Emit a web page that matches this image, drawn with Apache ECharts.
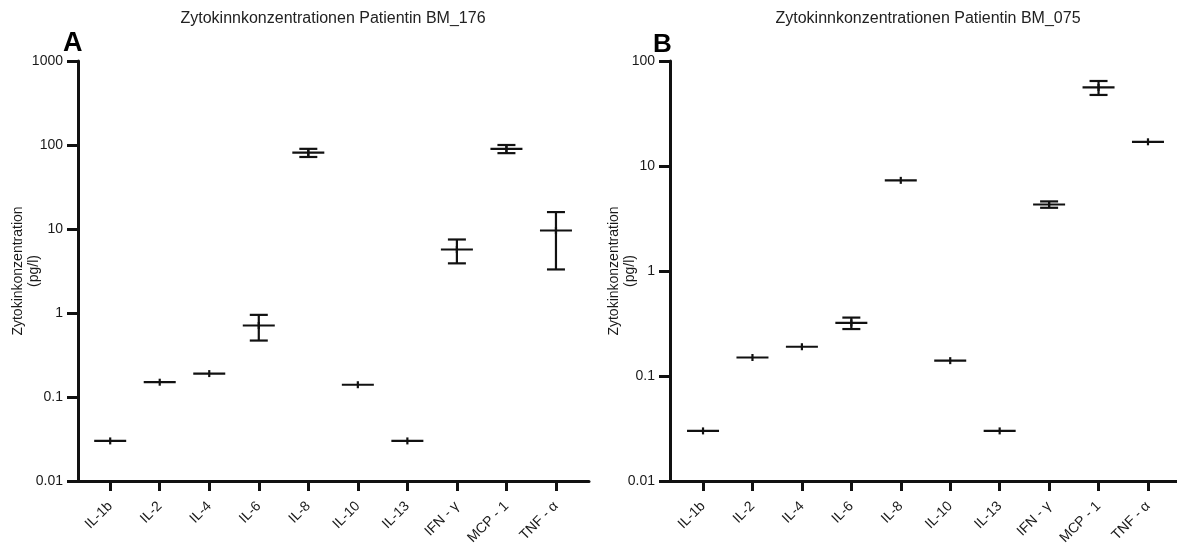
<!DOCTYPE html>
<html>
<head>
<meta charset="utf-8">
<script src="https://cdn.jsdelivr.net/npm/echarts@6/dist/echarts.min.js"></script>
<style>
  html, body { margin: 0; padding: 0; background: #fff; }
  #chart { width: 1177px; height: 547px; }
</style>
</head>
<body>
<div id="chart"></div>
<script>
// Cytokine panel: categories shared by both patients
const cytokines = ['IL-1b', 'IL-2', 'IL-4', 'IL-6', 'IL-8', 'IL-10', 'IL-13', 'IFN - γ', 'MCP - 1', 'TNF - α'];

// Patient BM_176 (panel A): mean and SD in pg/l
const meanA = [0.03, 0.15, 0.19, 0.71, 81, 0.14, 0.03, 5.7, 90, 9.6];
const sdA   = [0, 0, 0, 0.24, 9, 0, 0, 1.8, 10, 6.3];

// Patient BM_075 (panel B): mean and SD in pg/l
const meanB = [0.03, 0.15, 0.19, 0.32, 7.3, 0.14, 0.03, 4.3, 56, 17];
const sdB   = [0, 0, 0, 0.04, 0, 0, 0, 0.3, 8.5, 0];

const titleA = 'Zytokinnkonzentrationen Patientin BM_176';
const titleB = 'Zytokinnkonzentrationen Patientin BM_075';
const yName = 'Zytokinkonzentration\n(pg/l)';

const FONT = '"Liberation Sans", Arial, Helvetica, sans-serif';
const INK = '#111';

const catIdx = cytokines.map((_, i) => i);

function toData(means, sds) {
  return means.map((m, i) => [i, m, sds[i]]);
}

// mean line + SD whiskers with caps, and a small vertical stroke at the mean
function renderErrorBar(params, api) {
  const x = api.value(0);
  const m = api.value(1);
  const sd = api.value(2);
  const c = api.coord([x, m]);
  const hi = api.coord([x, m + sd]);
  const lo = api.coord([x, Math.max(m - sd, 1e-6)]);
  const half = 16, cap = 9, dot = 3.5;
  const style = { stroke: INK, lineWidth: 2.2 };
  const children = [
    { type: 'line', shape: { x1: c[0] - half, y1: c[1], x2: c[0] + half, y2: c[1] }, style },
    { type: 'line', shape: { x1: c[0], y1: c[1] - dot, x2: c[0], y2: c[1] + dot }, style }
  ];
  if (sd > 0) {
    children.push(
      { type: 'line', shape: { x1: c[0], y1: hi[1], x2: c[0], y2: lo[1] }, style },
      { type: 'line', shape: { x1: c[0] - cap, y1: hi[1], x2: c[0] + cap, y2: hi[1] }, style },
      { type: 'line', shape: { x1: c[0] - cap, y1: lo[1], x2: c[0] + cap, y2: lo[1] }, style }
    );
  }
  return { type: 'group', children };
}

function xAxisFor(gridIndex, min, max) {
  return {
    gridIndex, type: 'value', min, max,
    splitLine: { show: false },
    axisLine: { show: true, onZero: false, lineStyle: { color: INK, width: 3 } },
    axisTick: { show: true, length: 10, lineStyle: { color: INK, width: 3 }, customValues: catIdx },
    axisLabel: {
      customValues: catIdx, rotate: 45, margin: 23,
      color: '#1a1a1a', fontSize: 14, fontFamily: FONT,
      formatter: v => cytokines[Math.round(v)]
    }
  };
}

function yAxisFor(gridIndex, max, gap) {
  return {
    gridIndex, type: 'log', logBase: 10, min: 0.01, max,
    name: yName, nameLocation: 'middle', nameGap: gap, nameRotate: 90,
    nameMoveOverlap: false,
    nameTextStyle: { color: '#1a1a1a', fontSize: 14, fontFamily: FONT, lineHeight: 16 },
    splitLine: { show: false },
    minorTick: { show: false },
    axisLine: { show: true, onZero: false, lineStyle: { color: INK, width: 3 } },
    axisTick: { show: true, length: 11, lineStyle: { color: INK, width: 3 } },
    axisLabel: {
      margin: 15, color: '#1a1a1a', fontSize: 14, fontFamily: FONT,
      formatter: v => String(+v.toPrecision(6))
    }
  };
}

const chart = echarts.init(document.getElementById('chart'), null, { renderer: 'canvas' });

chart.setOption({
  backgroundColor: '#fff',
  animation: false,
  grid: [
    { left: 78, right: 588, top: 61, bottom: 66, outerBoundsMode: 'none' },
    { left: 670, right: 0, top: 61, bottom: 66, outerBoundsMode: 'none' }
  ],
  xAxis: [xAxisFor(0, -0.65, 9.667), xAxisFor(1, -0.668, 9.587)],
  yAxis: [yAxisFor(0, 1000, 36), yAxisFor(1, 100, 32)],
  graphic: [
    { type: 'text', x: 333, y: 11, style: { text: titleA, textAlign: 'center', textVerticalAlign: 'top', font: '16px ' + FONT, fill: '#222' } },
    { type: 'text', x: 928, y: 11, style: { text: titleB, textAlign: 'center', textVerticalAlign: 'top', font: '16px ' + FONT, fill: '#222' } },
    { type: 'text', x: 63, y: 30, style: { text: 'A', textVerticalAlign: 'top', font: 'bold 27px ' + FONT, fill: '#000' } },
    { type: 'text', x: 653, y: 32, style: { text: 'B', textVerticalAlign: 'top', font: 'bold 26px ' + FONT, fill: '#000' } }
  ],
  series: [
    { type: 'custom', xAxisIndex: 0, yAxisIndex: 0, data: toData(meanA, sdA), renderItem: renderErrorBar, clip: false },
    { type: 'custom', xAxisIndex: 1, yAxisIndex: 1, data: toData(meanB, sdB), renderItem: renderErrorBar, clip: false }
  ]
});
</script>
</body>
</html>
